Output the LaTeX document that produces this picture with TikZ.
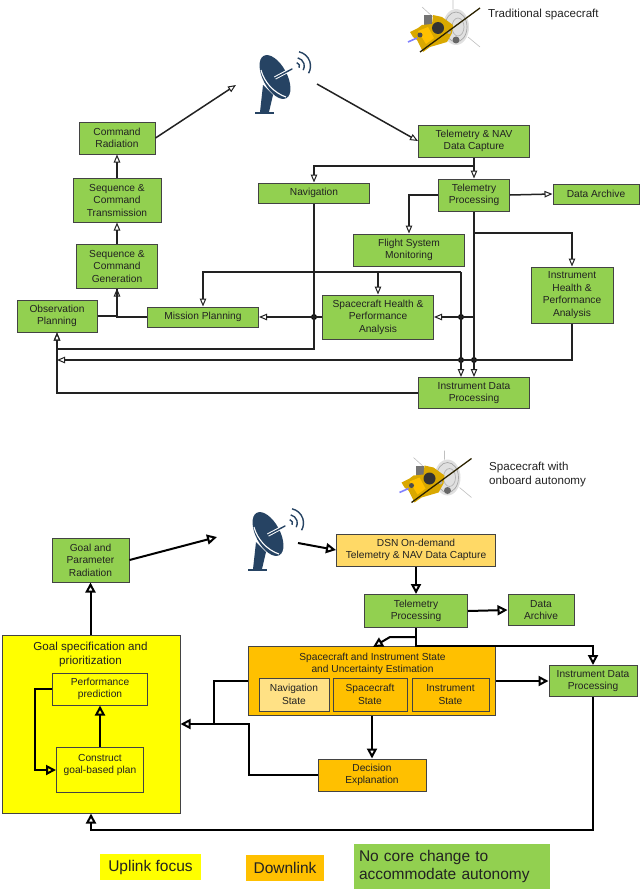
\documentclass[tikz,border=0pt]{standalone}
\usepackage{fontspec}
\setmainfont{Liberation Sans}
\usetikzlibrary{calc,arrows.meta}
\definecolor{c0}{HTML}{92D050}
\definecolor{c1}{HTML}{FFC000}
\definecolor{c2}{HTML}{FFD966}
\definecolor{c3}{HTML}{FFFF00}
\definecolor{c4}{HTML}{264363}
\definecolor{c5}{HTML}{D9A800}
\definecolor{ink}{HTML}{222222}
\tikzset{%
  block/.style n args={3}{draw=ink!85,fill=#1,line width=1pt,text=ink,align=center,inner sep=0pt,
    font=\fontsize{10.2}{12.5}\selectfont,minimum width=#2pt,minimum height=#3pt},
  gbox/.style 2 args={block={c0}{#1}{#2}},
  obox/.style 2 args={block={c1}{#1}{#2}},
  title/.style={text=ink,align=center,inner sep=0pt,font=\fontsize{10.2}{12.5}\selectfont},
  caption/.style={text=ink,align=left,anchor=west,inner sep=0pt,font=\fontsize{11.6}{14}\selectfont},
  legend/.style n args={3}{fill=#1,text=ink,align=left,inner sep=0pt,minimum width=#2pt,minimum height=#3pt,
    font=\fontsize{15.5}{18}\selectfont},
  point/.style={circle,inner sep=0pt,minimum size=6pt,fill=black},
  flow/.style={line width=1.5pt,draw=ink,-{Triangle[open,length=8pt,width=6.5pt,line width=1pt]}},
  line/.style={line width=1.5pt,draw=ink},
  flowb/.style={line width=2pt,draw=black,-{Triangle[open,length=10pt,width=10pt,line width=2pt]}},
  lineb/.style={line width=2pt,draw=black}
}
\NewDocumentCommand\dishIcon{m}{
  \begin{scope}[shift={(#1)}]
    \fill[c4] (260,112) -- (263,85) -- (273,95) -- (269,112) -- cycle;
    \fill[c4] (255,112) rectangle (274,114);
    \fill[c4,rotate around={-62:(275,77)}] (275,77) ellipse [x radius=24,y radius=12];
    \draw[white,line width=1.1pt] (261,70) .. controls (264,82) and (274,93) .. (286,97);
    \draw[white,line width=3.4pt] (275,78) -- (288,71);
    \draw[c4,line width=1.4pt,line cap=round] (275,78) -- (292,69);
    \foreach \r in {3.5,8.3,14.5}{
      \draw[c4,line width=1.4pt] ($(296,66)+(-78:\r)$) arc[start angle=-78,end angle=30,radius=\r];
    }
  \end{scope}
}
\NewDocumentCommand\craftIcon{m}{
  \begin{scope}[shift={(#1)}]
    \draw[black!25,line width=.6pt] (422,7) -- (433,17) (453,0) -- (453,9) (468,37) -- (480,47);
    \fill[black!12] (456,27) ellipse [x radius=13,y radius=18];
    \draw[black!35,line width=.7pt] (456,27) ellipse [x radius=11,y radius=15];
    \draw[black!30,line width=.7pt] (458,27) ellipse [x radius=6,y radius=9];
    \fill[black!60] (456,40) circle (3.5);
    \fill[black!55] (424,15) rectangle (432,25);
    \fill[c5] (410,32) -- (418,28) -- (422,25) -- (432,24) -- (433,15) -- (442,17) -- (453,25) -- (452,33)
      -- (447,42) -- (430,47) -- (423,52) -- (417,40) -- (413,37) -- cycle;
    \fill[c1] (418,31) -- (428,27) -- (434,38) -- (426,44) -- cycle;
    \fill[black!80] (438,28) circle (6);
    \fill[black!70] (420,35) circle (2.5);
    \fill[white!70!black] (449,32) circle (2);
    \draw[black!80!c5,line width=1.3pt] (480,8) -- (420,52);
    \draw[blue!50!white,line width=1.6pt] (408,42) -- (417,38);
  \end{scope}
}
\begin{document}
\begin{tikzpicture}[x=1pt,y=-1pt]
  \useasboundingbox (0,0) rectangle (640,891);
  % Traditional spacecraft
  \craftIcon{0,0}
  \node[caption] (tradlabel) at (488,15) {Traditional spacecraft};
  \dishIcon{0,0}
  \node[gbox={76}{32}] (cmdrad) at (117,138) {Command\\Radiation};
  \node[gbox={88}{44}] (seqtx) at (117,200) {Sequence \&\\Command\\Transmission};
  \node[gbox={81}{44}] (seqgen) at (117,266) {Sequence \&\\Command\\Generation};
  \node[gbox={80}{32}] (obs) at (57,316) {Observation\\Planning};
  \node[gbox={111}{20}] (mission) at (203,317) {Mission Planning};
  \node[gbox={111}{20}] (nav) at (314,193) {Navigation};
  \node[gbox={111}{32}] (tnav) at (474,141) {Telemetry \& NAV\\Data Capture};
  \node[gbox={71}{32}] (tproc) at (474,195) {Telemetry\\Processing};
  \node[gbox={86}{20}] (archive) at (596,194) {Data Archive};
  \node[gbox={111}{32}] (flight) at (409,250) {Flight System\\Monitoring};
  \node[gbox={111}{44}] (schealth) at (378,317) {Spacecraft Health \&\\Performance\\Analysis};
  \node[gbox={82}{56}] (ihp) at (572,295) {Instrument\\Health \&\\Performance\\Analysis};
  \node[gbox={111}{31}] (idp) at (474,393) {Instrument Data\\Processing};
  \node[point] (jnav) at (314,317) {};
  \node[point] (jsc) at (461,317) {};
  \node[point] (jleft) at (461,360) {};
  \node[point] (jright) at (474,360) {};
  \coordinate (dishin) at (236,85);
  \coordinate (dishout) at (317,84);
  \coordinate (tnavbr) at (474,166);
  \coordinate (navturn) at (314,349);
  \coordinate (missbr) at (461,272);
  \coordinate (schbr) at (378,272);
  \coordinate (tprocbr) at (474,233);
  \coordinate (tprocsc) at (474,317);
  \coordinate (obsin) at (57,360);
  \draw[flow] (cmdrad.east) -- (dishin);
  \draw[flow] (dishout) -- (tnav.west);
  \draw[flow] (seqtx) -- (cmdrad);
  \draw[flow] (seqgen) -- (seqtx);
  \draw[flow] (tnav) -- (tproc);
  \draw[flow] (tnavbr) -| (nav.north);
  \draw[flow] (nav.south) -- (navturn) -| (obs.south);
  \draw[flow] (obs.east) -| (seqgen.south);
  \draw[line] (mission.west) -| (seqgen.south);
  \draw[flow] (tproc.east) -- (archive.west);
  \draw[flow] (tproc.west) -| (flight.north);
  \draw[flow] (tproc.south) -- (tproc.south |- idp.north);
  \draw[flow] (tprocbr) -| (ihp.north);
  \draw[flow] (tprocsc) -- (jsc.center) -- (schealth.east);
  \draw[line] (schealth.west) -- (jnav.center);
  \draw[flow] (jnav.center) -- (mission.east);
  \draw[flow] (missbr) -- (missbr |- idp.north);
  \draw[flow] (missbr) -| (mission.north);
  \draw[flow] (schbr) -- (schealth.north);
  \draw[flow] (ihp.south) |- (obsin);
  \draw[flow] (idp.west) -| (obs.south);
  % Spacecraft with onboard autonomy
  \craftIcon{-8.5,450.5}
  \node[caption] (autolabel) at (489,474.5) {Spacecraft with\\onboard autonomy};
  \dishIcon{-7,457}
  \node[gbox={77}{44}] (goalrad) at (90.5,560) {Goal and\\Parameter\\Radiation};
  \node[block={c3}{178}{178}] (goal) at (91,724) {};
  \node[title,font=\fontsize{11.6}{13.5}\selectfont] (goaltitle) at (90.5,654.5) {Goal specification and\\prioritization};
  \node[block={c3}{95}{32}] (perf) at (100,689) {Performance\\prediction};
  \node[block={c3}{87}{45}] (plan) at (100,770) {};
  \node[title] (plantitle) at (100,765) {Construct\\goal-based plan};
  \node[block={c2}{159}{32}] (dsn) at (416,550) {DSN On-demand\\Telemetry \& NAV Data Capture};
  \node[gbox={103}{33}] (tproclow) at (416,611) {Telemetry\\Processing};
  \node[gbox={66}{31}] (archivelow) at (541,610) {Data\\Archive};
  \node[obox={247}{69}] (state) at (372,681) {};
  \node[title] (statetitle) at (372.5,664) {Spacecraft and Instrument State\\and Uncertainty Estimation};
  \node[block={c2!80!white}{70}{33}] (navstate) at (294,694.5) {Navigation\\State};
  \node[obox={74}{33}] (craftstate) at (370,694.5) {Spacecraft\\State};
  \node[obox={77}{33}] (inststate) at (450.5,694.5) {Instrument\\State};
  \node[gbox={88}{31}] (idplow) at (593,681) {Instrument Data\\Processing};
  \node[obox={108}{32}] (decision) at (372,775) {Decision\\Explanation};
  \coordinate (dishinlow) at (217,537);
  \coordinate (dishoutlow) at (298,543);
  \coordinate (planloop) at (35,689);
  \coordinate (stbranch) at (416,637);
  \coordinate (stbend) at (390,637);
  \coordinate (stin) at (373,647);
  \coordinate (idbranch) at (416,646);
  \coordinate (goalin) at (214,724);
  \coordinate (decturn) at (249,775);
  \coordinate (idturn) at (593,830);
  \draw[flowb] (goalrad.east) -- (dishinlow);
  \draw[flowb] (dishoutlow) -- (dsn.west);
  \draw[flowb] (goal.north -| goalrad) -- (goalrad.south);
  \draw[flowb] (plan) -- (perf);
  \draw[flowb] (perf.west) -- (planloop) |- (plan.west);
  \draw[flowb] (dsn) -- (tproclow);
  \draw[flowb] (tproclow.east) -- (archivelow.west);
  \draw[flowb] (tproclow.south) -- (idbranch) -| (idplow.north);
  \draw[flowb] (stbranch) -- (stbend) -- (stin);
  \draw[flowb] (state.east) -- (idplow.west);
  \draw[lineb] (state.west) -| (goalin);
  \draw[flowb] (decision.west) -- (decturn) |- (goal.east);
  \draw[flowb] (state.south) -- (decision.north);
  \draw[flowb] (idplow.south) -- (idturn) -| (goal.south);
  % Legend
  \node[legend={c3}{101}{26},align=center] (uplink) at (150.5,867) {Uplink focus};
  \node[legend={c1}{78}{26},align=center] (downlink) at (285,868) {Downlink};
  \node[legend={c0}{196}{45},text width=186pt] (nochange) at (452,866.5) {No core change to\\accommodate autonomy};
\end{tikzpicture}
\end{document}
